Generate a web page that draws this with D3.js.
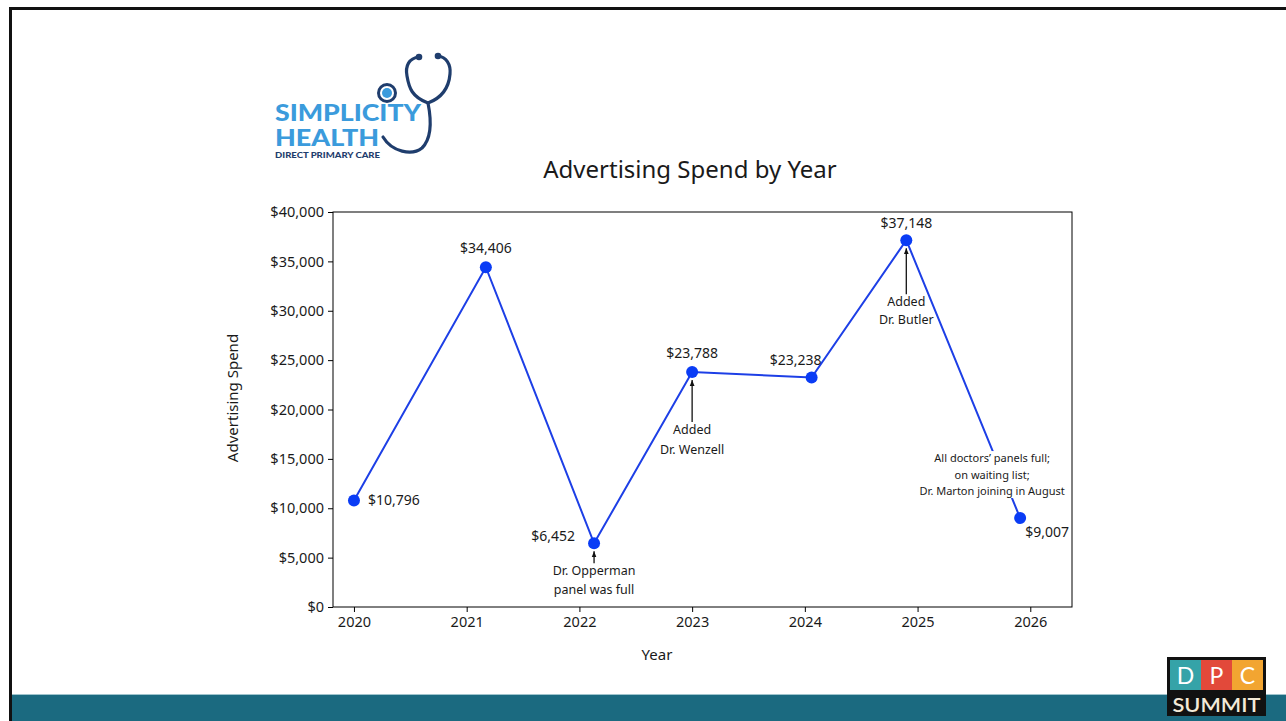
<!DOCTYPE html>
<html>
<head>
<meta charset="utf-8">
<script src="https://cdn.jsdelivr.net/npm/d3@7"></script>
<style>
  html, body { margin: 0; padding: 0; background: #fff; }
  svg { display: block; }
  text { font-family: "Segoe UI", "Noto Sans", "DejaVu Sans", sans-serif; fill: #1a1a1a; }
</style>
</head>
<body>
<svg id="chart" width="1286" height="721"></svg>
<script>
// Yearly advertising spend
const years = [2020, 2021, 2022, 2023, 2024, 2025, 2026];
const datePos = [2020.0, 2021.17, 2022.13, 2023.0, 2024.06, 2024.9, 2025.91];
const spend = [10796, 34406, 6452, 23788, 23238, 37148, 9007];
const yTicks = [0, 5000, 10000, 15000, 20000, 25000, 30000, 35000, 40000];

// Notes attached to individual years
const noteYears = [2022, 2023, 2025, 2026];
const noteTexts = [
  ["Dr. Opperman", "panel was full"],
  ["Added", "Dr. Wenzell"],
  ["Added", "Dr. Butler"],
  ["All doctors\u2019 panels full;", "on waiting list;", "Dr. Marton joining in August"]
];

const svg = d3.select("#chart");
const W = 1286, H = 721;

// slide frame
svg.append("rect").attr("x", 0).attr("y", 0).attr("width", W).attr("height", H).attr("fill", "#fff");
svg.append("rect").attr("x", 12).attr("y", 694).attr("width", W - 12).attr("height", H - 694).attr("fill", "#1b6a80");
svg.append("line").attr("x1", 12).attr("x2", W).attr("y1", 694.5).attr("y2", 694.5).attr("stroke", "#9fc4cd").attr("stroke-width", 1);
svg.append("line").attr("x1", 9).attr("x2", W).attr("y1", 8.5).attr("y2", 8.5).attr("stroke", "#111").attr("stroke-width", 3);
svg.append("line").attr("x1", 10.5).attr("x2", 10.5).attr("y1", 7).attr("y2", H).attr("stroke", "#111").attr("stroke-width", 3);

// plot area
const plotL = 333, plotR = 1072, plotT = 212, plotB = 607;
const x = d3.scaleLinear().domain([2019.814, 2026.37]).range([plotL, plotR]);
const y = d3.scaleLinear().domain([0, 40000]).range([plotB, plotT]);

const g = svg.append("g");
g.append("rect").attr("x", plotL).attr("y", plotT).attr("width", plotR - plotL).attr("height", plotB - plotT)
  .attr("fill", "none").attr("stroke", "#000").attr("stroke-width", 1);

const fmt = v => "$" + d3.format(",")(v);

const yAxis = g.append("g").attr("transform", `translate(${plotL},0)`)
  .call(d3.axisLeft(y).tickValues(yTicks).tickFormat(fmt).tickSize(5).tickPadding(4));
const xAxis = g.append("g").attr("transform", `translate(0,${plotB})`)
  .call(d3.axisBottom(x).tickValues(years).tickFormat(d3.format("d")).tickSize(5).tickPadding(5));
[yAxis, xAxis].forEach(a => {
  a.select(".domain").remove();
  a.selectAll("line").attr("stroke", "#000");
  a.selectAll("text").attr("font-size", 14.5).attr("fill", "#1a1a1a")
    .style("font-family", '"Segoe UI", "Noto Sans", sans-serif');
});

// titles
svg.append("text").attr("x", 690).attr("y", 178).attr("text-anchor", "middle")
  .attr("font-size", 24).text("Advertising Spend by Year");
svg.append("text").attr("x", 657).attr("y", 660).attr("text-anchor", "middle")
  .attr("font-size", 15).text("Year");
svg.append("text").attr("transform", "translate(238,398) rotate(-90)").attr("text-anchor", "middle")
  .attr("font-size", 15).text("Advertising Spend");

// series
const pts = years.map((yr, i) => ({ year: yr, t: datePos[i], v: spend[i] }));
const line = d3.line().x(d => x(d.t)).y(d => y(d.v));
g.append("path").datum(pts).attr("d", line).attr("fill", "none")
  .attr("stroke", "#1d3fe6").attr("stroke-width", 2);

// notes; the last one sits on a white backing over the line
const noteLayout = {
  2022: { dy: 32, lh: 19, size: 12.5, arrow: true, backing: false },
  2023: { dy: 62, lh: 20, size: 12.5, arrow: true, backing: false },
  2025: { dy: 66, lh: 18, size: 12.5, arrow: true, backing: false },
  2026: { dy: -56, dx: -28, lh: 16.5, size: 11, arrow: false, backing: true }
};
const defs = svg.append("defs");
defs.append("marker").attr("id", "ah").attr("viewBox", "0 0 10 10").attr("refX", 10).attr("refY", 5)
  .attr("markerWidth", 6).attr("markerHeight", 6).attr("markerUnits", "userSpaceOnUse").attr("orient", "auto")
  .append("path").attr("d", "M0,1 L10,5 L0,9 Z").attr("fill", "#111");

noteYears.forEach((yr, k) => {
  const p = pts.find(d => d.year === yr);
  const L = noteLayout[yr];
  const cx = x(p.t) + (L.dx || 0);
  const ty = y(p.v) + L.dy;
  const lines = noteTexts[k];
  const ng = g.append("g");
  const txt = ng.append("text").attr("text-anchor", "middle").attr("font-size", L.size);
  lines.forEach((s, j) => txt.append("tspan").attr("x", cx).attr("y", ty + j * L.lh).text(s));
  const bb = txt.node().getBBox();
  if (L.backing) {
    ng.insert("rect", "text").attr("x", bb.x - 1).attr("y", bb.y + 1).attr("width", bb.width + 2)
      .attr("height", bb.height - 1).attr("fill", "#fff");
  }
  if (L.arrow) {
    ng.append("line").attr("x1", x(p.t)).attr("x2", x(p.t))
      .attr("y1", bb.y + 1).attr("y2", y(p.v) + 8)
      .attr("stroke", "#111").attr("stroke-width", 1.3).attr("marker-end", "url(#ah)");
  }
});

g.selectAll("circle.pt").data(pts).join("circle").attr("class", "pt")
  .attr("cx", d => x(d.t)).attr("cy", d => y(d.v)).attr("r", 6).attr("fill", "#0a3cf5");

// value labels: offsets from each point
const labelOffsets = {
  2020: [14, 5, "start"], 2021: [0, -14, "middle"], 2022: [-19, -2, "end"],
  2023: [0, -14, "middle"], 2024: [-16, -13, "middle"], 2025: [0, -12, "middle"],
  2026: [5, 19, "start"]
};
g.selectAll("text.val").data(pts).join("text").attr("class", "val")
  .attr("x", d => x(d.t) + labelOffsets[d.year][0])
  .attr("y", d => y(d.v) + labelOffsets[d.year][1])
  .attr("text-anchor", d => labelOffsets[d.year][2])
  .attr("font-size", 14).text(d => fmt(d.v));

// brand mark, top left
const logo = svg.append("g");
const navy = "#1f3d6d", sky = "#3b9bdc";
logo.append("text").attr("x", 275).attr("y", 121).attr("font-size", 22).attr("font-weight", 900)
  .attr("textLength", 146).attr("lengthAdjust", "spacingAndGlyphs")
  .style("font-family", "Lato, 'Open Sans', sans-serif").style("fill", sky).text("SIMPLICITY");
logo.append("text").attr("x", 275).attr("y", 146).attr("font-size", 22).attr("font-weight", 900)
  .attr("textLength", 104).attr("lengthAdjust", "spacingAndGlyphs")
  .style("font-family", "Lato, 'Open Sans', sans-serif").style("fill", sky).text("HEALTH");
logo.append("text").attr("x", 275).attr("y", 157.5).attr("font-size", 7.5).attr("font-weight", 900)
  .attr("textLength", 105).attr("lengthAdjust", "spacingAndGlyphs")
  .style("font-family", "Lato, 'Open Sans', sans-serif").style("fill", navy).text("DIRECT PRIMARY CARE");
logo.append("path")
  .attr("d", "M419,57 C409,58 405,66 407,76 C409,88 412,97 428,103 C444,97 449,86 450,74 C451,64 446,57 438,56")
  .attr("fill", "none").attr("stroke", navy).attr("stroke-width", 3.2).attr("stroke-linecap", "round");
logo.append("path")
  .attr("d", "M428,103 C431,118 432,138 422,148 C412,156 392,152 383,137")
  .attr("fill", "none").attr("stroke", navy).attr("stroke-width", 3.2).attr("stroke-linecap", "round");
[[419, 57], [438, 56]].forEach(([a, b]) =>
  logo.append("circle").attr("cx", a).attr("cy", b).attr("r", 3.3).attr("fill", navy));
logo.append("circle").attr("cx", 387).attr("cy", 93).attr("r", 8.5).attr("fill", "#fff")
  .attr("stroke", navy).attr("stroke-width", 3);
logo.append("circle").attr("cx", 387).attr("cy", 93).attr("r", 5).attr("fill", sky);

// event badge, bottom right
const badge = svg.append("g");
badge.append("rect").attr("x", 1167).attr("y", 657).attr("width", 99).attr("height", 59).attr("fill", "#111");
const tiles = [["D", "#35a3a8"], ["P", "#e2493a"], ["C", "#f2a531"]];
tiles.forEach(([ch, col], i) => {
  badge.append("rect").attr("x", 1170 + i * 31).attr("y", 660).attr("width", 31).attr("height", 30).attr("fill", col);
  badge.append("text").attr("x", 1185.5 + i * 31).attr("y", 684).attr("text-anchor", "middle")
    .attr("font-size", 23).style("fill", "#fff").style("font-family", "Lato, sans-serif").text(ch);
});
badge.append("text").attr("x", 1216.5).attr("y", 712).attr("text-anchor", "middle")
  .attr("font-size", 19).attr("font-weight", 600).attr("textLength", 88).attr("lengthAdjust", "spacingAndGlyphs")
  .style("fill", "#f3ead8").style("font-family", "Lato, sans-serif").text("SUMMIT");
</script>
</body>
</html>
